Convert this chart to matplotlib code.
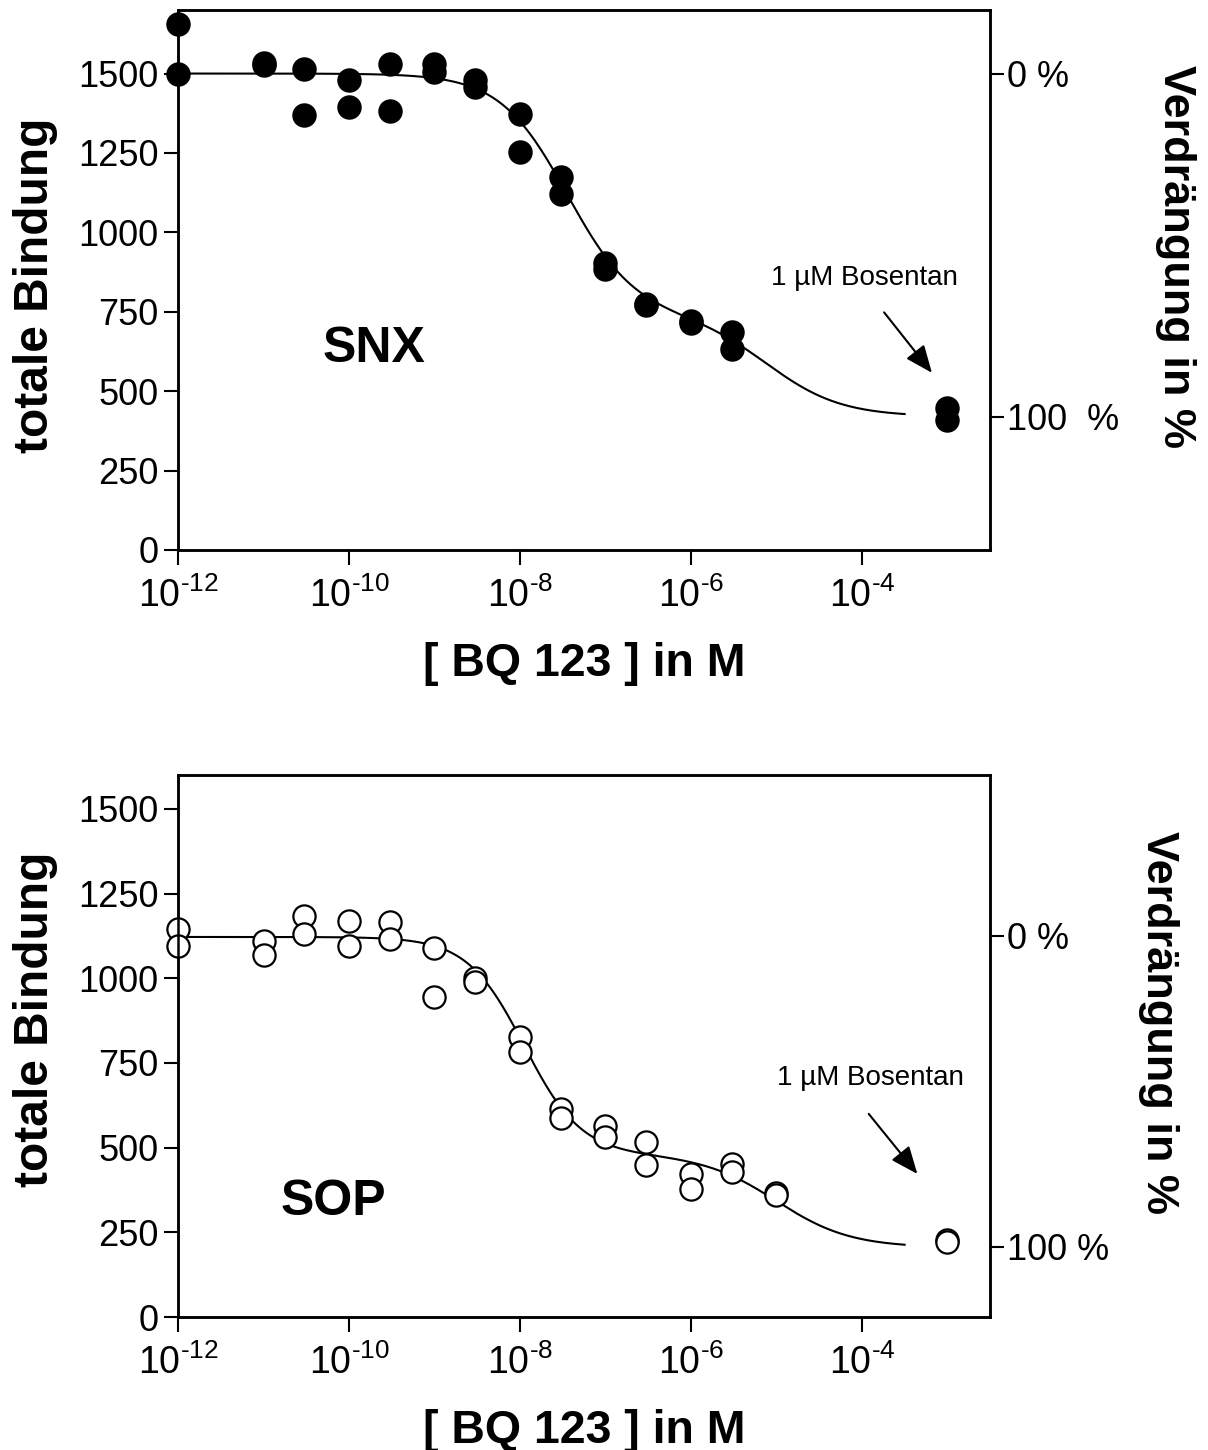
import numpy as np
import matplotlib.pyplot as plt
from matplotlib.ticker import FixedLocator, FuncFormatter, NullLocator

plt.rcParams['font.family'] = ['Liberation Sans', 'DejaVu Sans']
plt.rcParams['mathtext.fontset'] = 'custom'
plt.rcParams['mathtext.rm'] = 'Liberation Sans'
plt.rcParams['mathtext.it'] = 'Liberation Sans:italic'
plt.rcParams['mathtext.bf'] = 'Liberation Sans:bold'

# BQ 123 concentration (M), duplicates per concentration
snx_conc = [1e-12, 1e-12, 1e-11, 1e-11, 3e-11, 3e-11, 1e-10, 1e-10, 3e-10, 3e-10,
            1e-9, 1e-9, 3e-9, 3e-9, 1e-8, 1e-8, 3e-8, 3e-8, 1e-7, 1e-7,
            3e-7, 3e-7, 1e-6, 1e-6, 3e-6, 3e-6]
snx_bound = [1655, 1500, 1532, 1528, 1515, 1370, 1480, 1394, 1529, 1383,
             1530, 1504, 1480, 1459, 1373, 1253, 1174, 1122, 903, 886,
             776, 770, 722, 716, 685, 634]

sop_conc = [1e-12, 1e-12, 1e-11, 1e-11, 3e-11, 3e-11, 1e-10, 1e-10, 3e-10, 3e-10,
            1e-9, 1e-9, 3e-9, 3e-9, 1e-8, 1e-8, 3e-8, 3e-8, 1e-7, 1e-7,
            3e-7, 3e-7, 1e-6, 1e-6, 3e-6, 3e-6, 1e-5, 1e-5]
sop_bound = [1145, 1094, 1109, 1069, 1185, 1131, 1170, 1096, 1165, 1116,
             1089, 945, 1002, 990, 827, 782, 614, 589, 564, 532,
             518, 449, 421, 378, 451, 429, 366, 360]

# 1 uM Bosentan (non-specific binding), drawn at the right edge
bosentan_conc = [1e-3, 1e-3]
snx_bosentan = [446, 409]
sop_bosentan = [228, 222]

# two-site competition fit: top, bottom, fraction site 1, logIC50 1, hill 1, logIC50 2
snx_fit = (1500, 420, 0.70, -7.45, 1.1, -5.1)
sop_fit = (1122, 205, 0.70, -7.95, 1.3, -5.0)
fit_range = (-12, -3.5)

# right axis: percent displacement
snx_pct_ticks = [1500, 420]
snx_pct_labels = ['0 %', '100  %']
sop_pct_ticks = [1125, 207]
sop_pct_labels = ['0 %', '100 %']

left_ticks = [0, 250, 500, 750, 1000, 1250, 1500]
x_ticks = [1e-12, 1e-10, 1e-8, 1e-6, 1e-4]


def two_site(logx, top, bottom, frac, logic1, hill1, logic2):
    s1 = frac / (1 + 10 ** (hill1 * (logx - logic1)))
    s2 = (1 - frac) / (1 + 10 ** (logx - logic2))
    return bottom + (top - bottom) * (s1 + s2)


def sci(x, pos):
    return r'$\mathregular{10^{\text{%d}}}$' % int(round(np.log10(x)))


def draw_panel(ax, conc, bound, bos, fit, pct_ticks, pct_labels, ymax, name,
               name_xy, text_xy, arrow_from, arrow_to, filled, rlabel_xy, llabel_y):
    logx = np.linspace(fit_range[0], fit_range[1], 400)
    ax.plot(10 ** logx, two_site(logx, *fit), color='black', lw=1.5, zorder=2)
    face = 'black' if filled else 'white'
    ax.plot(conc + bosentan_conc, bound + bos, 'o', ms=16, mfc=face, mec='black',
            mew=1.6, clip_on=False, zorder=3)
    ax.set_xscale('log')
    ax.set_xlim(1e-12, 10 ** -2.5)
    ax.set_ylim(0, ymax)
    ax.xaxis.set_major_locator(FixedLocator(x_ticks))
    ax.xaxis.set_minor_locator(NullLocator())
    ax.xaxis.set_major_formatter(FuncFormatter(sci))
    ax.set_yticks(left_ticks)
    ax.tick_params(axis='both', direction='out', length=10, width=1.5, labelsize=26, pad=4)
    ax.tick_params(axis='x', labelsize=27, pad=9, length=11)
    for sp in ax.spines.values():
        sp.set_linewidth(1.8)
    ax.set_xlabel('[ BQ 123 ] in M', fontsize=33.5, fontweight='bold', labelpad=19)
    ax.set_ylabel('totale Bindung', fontsize=34.5, fontweight='bold', va='center')
    ax.yaxis.set_label_coords(-0.175, llabel_y)
    ax.text(name_xy[0], name_xy[1], name, transform=ax.transAxes, fontsize=36,
            fontweight='bold', ha='center', va='center')
    ax.text(text_xy[0], text_xy[1], '1 µM Bosentan', fontsize=20, ha='center', va='center')
    ax.annotate('', xy=arrow_to, xytext=arrow_from,
                arrowprops=dict(arrowstyle='-|>,head_length=0.6,head_width=0.25',
                                mutation_scale=28, lw=1.5, color='black'))

    ax2 = ax.twinx()
    ax2.set_ylim(0, ymax)
    ax2.set_yticks(pct_ticks)
    ax2.set_yticklabels(pct_labels)
    ax2.tick_params(axis='y', direction='out', length=10, width=1.5, labelsize=26, pad=2)
    for sp in ax2.spines.values():
        sp.set_linewidth(1.8)
    ax2.set_ylabel('Verdrängung in %', fontsize=32.5, fontweight='bold', rotation=-90,
                   va='center')
    ax2.yaxis.set_label_coords(rlabel_xy[0], rlabel_xy[1])


fig = plt.figure(figsize=(12.08, 14.5), dpi=100)
ax_top = fig.add_axes([0.1474, 0.6207, 0.6722, 0.3724])
ax_bot = fig.add_axes([0.1474, 0.0917, 0.6722, 0.3738])

draw_panel(ax_top, snx_conc, snx_bound, snx_bosentan, snx_fit, snx_pct_ticks,
           snx_pct_labels, 1700, 'SNX', (0.241, 0.372), (10 ** -3.97, 856),
           (10 ** -3.76, 755), (10 ** -3.16, 551), True, (1.228, 0.544), 0.49)
draw_panel(ax_bot, sop_conc, sop_bound, sop_bosentan, sop_fit, sop_pct_ticks,
           sop_pct_labels, 1600, 'SOP', (0.1915, 0.212), (10 ** -3.90, 707),
           (10 ** -3.94, 606), (10 ** -3.33, 416), False, (1.207, 0.544), 0.55)

fig.savefig('out.png', dpi=100)
